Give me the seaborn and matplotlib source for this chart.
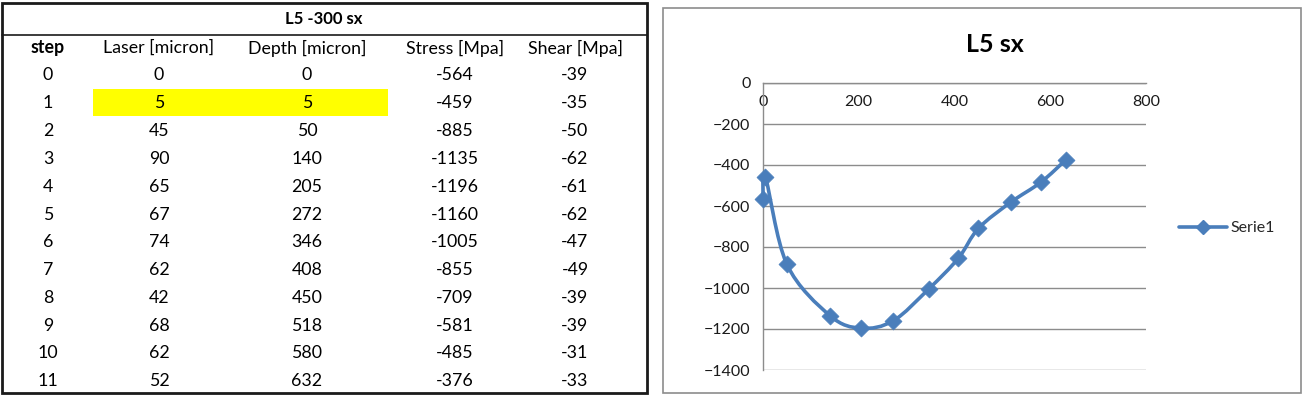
import numpy as np
import matplotlib
matplotlib.use("Agg")
import matplotlib.pyplot as plt
import seaborn as sns
from matplotlib.path import Path
from matplotlib.patches import PathPatch, Rectangle
from matplotlib.lines import Line2D

# ---------------- data ----------------
table_title = "L5 -300 sx"
headers = ["step", "Laser [micron]", "Depth [micron]", "Stress [Mpa]", "Shear [Mpa]"]
steps = [0, 1, 2, 3, 4, 5, 6, 7, 8, 9, 10, 11]
laser = [0, 5, 45, 90, 65, 67, 74, 62, 42, 68, 62, 52]
depth = [0, 5, 50, 140, 205, 272, 346, 408, 450, 518, 580, 632]
stress = [-564, -459, -885, -1135, -1196, -1160, -1005, -855, -709, -581, -485, -376]
shear = [-39, -35, -50, -62, -61, -62, -47, -49, -39, -39, -31, -33]
highlight_row = 1
chart_title = "L5 sx"
series_name = "Serie1"
x_ticks = [0, 200, 400, 600, 800]
y_ticks = [0, -200, -400, -600, -800, -1000, -1200, -1400]

sns.set_theme(style="white")
plt.rcParams['font.family'] = ['Lato', 'DejaVu Sans']

W, H = 1304, 395
fig = plt.figure(figsize=(W / 100, H / 100), dpi=100)

# ---------------- table (pixel coordinate axes) ----------------
axt = fig.add_axes([0, 0, 1, 1])
axt.set_xlim(0, W)
axt.set_ylim(H, 0)
axt.axis("off")

col_x = [48, 159, 307, 455, 575]
axt.add_patch(Rectangle((2, 3), 645, 390, fill=False, ec="#1a1a1a", lw=2))
axt.plot([2, 647], [35, 35], color="#1a1a1a", lw=1.2)
axt.text(324, 19, table_title, ha="center", va="center", fontsize=12, fontweight="bold", color="black")
for i, h in enumerate(headers):
    axt.text(col_x[i], 48, h, ha="center", va="center", fontsize=12.8,
             fontweight="bold" if i == 0 else "normal", color="black")
row_y0, row_dy = 75.5, 27.8
for r, vals in enumerate(zip(steps, laser, depth, stress, shear)):
    y = row_y0 + r * row_dy
    if r == highlight_row:
        axt.add_patch(Rectangle((93, y - 14), 295, 27, color="#ffff00", lw=0))
    for i, v in enumerate(vals):
        axt.text(col_x[i], y, str(v), ha="center", va="center", fontsize=12.8, color="black")

# chart outer box
axt.add_patch(Rectangle((663, 8), 638, 385, fill=False, ec="#8c8c8c", lw=1.2))

# ---------------- chart ----------------
ax = fig.add_axes([763 / W, 1 - 370 / H, (1146 - 763) / W, (370 - 83) / H])
ax.set_xlim(0, 800)
ax.set_ylim(-1400, 0)
ax.set_xticks(x_ticks)
ax.set_yticks(y_ticks)
ax.grid(axis="y", color="#8c8c8c", lw=1)
ax.grid(axis="x", visible=False)
for s in ["top", "right"]:
    ax.spines[s].set_visible(False)
ax.spines["bottom"].set_position(("data", 0))
for s in ["left", "bottom"]:
    ax.spines[s].set_color("#8c8c8c")
    ax.spines[s].set_linewidth(1)
ax.tick_params(axis="x", direction="inout", length=8, color="#8c8c8c", width=1,
               labelsize=11.5, pad=5, labelcolor="#1a1a1a")
ax.tick_params(axis="y", direction="out", length=5, color="#8c8c8c", width=1,
               labelsize=11.5, pad=4, labelcolor="#1a1a1a")
ax.set_facecolor("none")

blue = "#4a7ebb"
pts = np.column_stack([depth, stress]).astype(float)
n = len(pts)
verts = [pts[0]]
codes = [Path.MOVETO]
for i in range(n - 1):
    p0 = pts[i - 1] if i > 0 else pts[i]
    p1 = pts[i]
    p2 = pts[i + 1]
    p3 = pts[i + 2] if i + 2 < n else pts[i + 1]
    c1 = p1 + (p2 - p0) / 6
    c2 = p2 - (p3 - p1) / 6
    verts += [c1, c2, p2]
    codes += [Path.CURVE4] * 3
ax.add_patch(PathPatch(Path(verts, codes), fill=False, ec=blue, lw=2.6, zorder=3, clip_on=False))

sns.scatterplot(x=depth, y=stress, marker="D", s=75, color=blue, edgecolor=blue,
                linewidth=0.5, ax=ax, zorder=4, clip_on=False)
ax.set_xlabel("")
ax.set_ylabel("")

fig.text(995 / W, 1 - 45 / H, chart_title, ha="center", va="center",
         fontsize=18, fontweight="bold", color="black")

handle = Line2D([], [], color=blue, lw=2.6, marker="D", markersize=7)
fig.legend([handle], [series_name], loc="center left", bbox_to_anchor=(1165 / W, 1 - 228 / H),
           frameon=False, fontsize=11.5, handlelength=3, handletextpad=0.2)

fig.savefig("out.png", dpi=100)
